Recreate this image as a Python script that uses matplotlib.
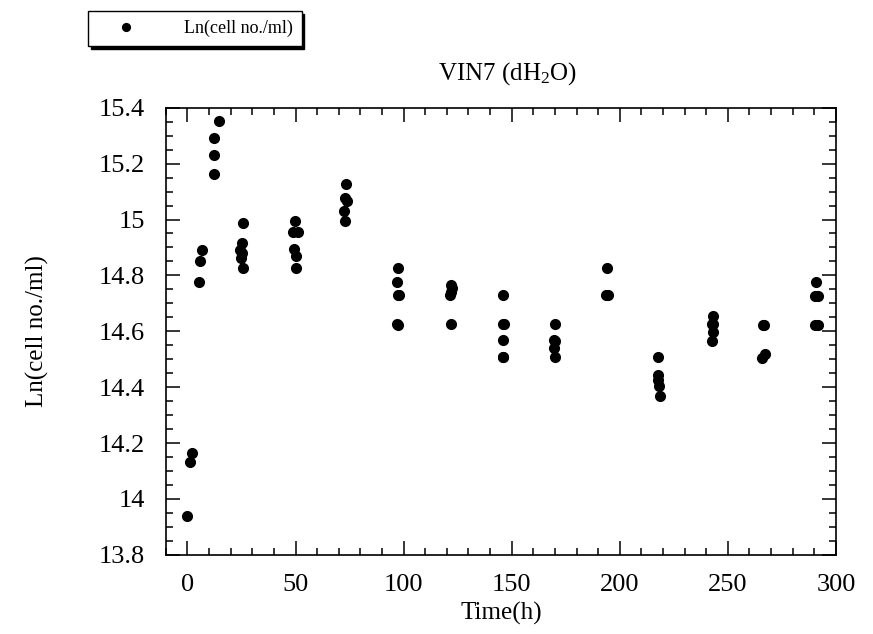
import matplotlib
matplotlib.use("Agg")
import matplotlib.pyplot as plt
from matplotlib.ticker import MultipleLocator, FuncFormatter

# Data (time in h, Ln of cell count)
t0 = [0.0, 1.1, 2.2]
y0 = [13.938, 14.133, 14.163]
t6 = [5.5, 5.8, 6.5]
y6 = [14.778, 14.850, 14.892]
t12 = [12.3, 12.3, 12.3, 14.5]
y12 = [15.162, 15.230, 15.291, 15.354]
t24 = [25.5, 24.8, 25.2, 24.5, 25.0, 25.5]
y24 = [14.826, 14.862, 14.880, 14.890, 14.916, 14.986]
t48 = [50.3, 50.0, 49.5, 49.0, 51.0, 49.8]
y48 = [14.827, 14.868, 14.894, 14.954, 14.954, 14.994]
t72 = [73.0, 72.5, 74.0, 73.0, 73.2]
y72 = [14.995, 15.032, 15.066, 15.078, 15.127]
t96 = [97.5, 97.0, 98.0, 97.3, 96.8, 97.5]
y96 = [14.622, 14.626, 14.731, 14.731, 14.777, 14.827]
t120 = [122.0, 121.5, 122.0, 122.5, 122.0]
y120 = [14.626, 14.730, 14.742, 14.754, 14.766]
t144 = [146.0, 146.2, 145.8, 146.0, 146.3, 145.8]
y144 = [14.508, 14.508, 14.568, 14.626, 14.626, 14.731]
t168 = [170.0, 169.8, 170.2, 169.8, 170.0]
y168 = [14.508, 14.540, 14.564, 14.569, 14.625]
t192 = [193.5, 194.5, 194.0]
y192 = [14.730, 14.730, 14.826]
t216 = [218.5, 218.0, 217.8, 217.6, 217.6]
y216 = [14.369, 14.405, 14.424, 14.444, 14.508]
t240 = [242.5, 243.0, 242.8, 243.0, 243.2]
y240 = [14.566, 14.597, 14.627, 14.627, 14.654]
t264 = [266.0, 267.0, 266.5, 266.8]
y264 = [14.504, 14.519, 14.624, 14.624]
t288 = [290.5, 291.5, 290.5, 291.5, 291.0]
y288 = [14.623, 14.623, 14.727, 14.727, 14.776]

times = t0 + t6 + t12 + t24 + t48 + t72 + t96 + t120 + t144 + t168 + t192 + t216 + t240 + t264 + t288
lncells = y0 + y6 + y12 + y24 + y48 + y72 + y96 + y120 + y144 + y168 + y192 + y216 + y240 + y264 + y288

plt.rcParams['font.family'] = ['Liberation Serif', 'DejaVu Serif']
plt.rcParams['mathtext.fontset'] = 'custom'
plt.rcParams['mathtext.rm'] = 'Liberation Serif'
plt.rcParams['mathtext.it'] = 'Liberation Serif:italic'

fig = plt.figure(figsize=(8.73, 6.34), dpi=100)
ax = fig.add_axes([0.190, 0.125, 0.7675, 0.705])

ax.plot(times, lncells, 'o', color='black', ms=7, label='Ln(cell no./ml)')

ax.set_xlim(-10, 300)
ax.set_ylim(13.8, 15.4)
ax.xaxis.set_major_locator(MultipleLocator(50))
ax.xaxis.set_minor_locator(MultipleLocator(10))
ax.yaxis.set_major_locator(MultipleLocator(0.2))
ax.yaxis.set_minor_locator(MultipleLocator(0.05))
ax.yaxis.set_major_formatter(FuncFormatter(lambda v, p: '%g' % round(v, 2)))

ax.tick_params(which='both', direction='in', top=True, right=True, width=1.1)
ax.tick_params(which='major', length=10, labelsize=19)
ax.tick_params(axis='x', which='major', pad=14)
ax.tick_params(axis='y', which='major', pad=15)
ax.tick_params(which='minor', length=5)
for s in ax.spines.values():
    s.set_linewidth(1.2)

ax.set_xlabel('Time(h)', fontsize=18, labelpad=4)
ax.set_ylabel('Ln(cell no./ml)', fontsize=18, labelpad=36)
ax.set_title('VIN7 (dH$_2$O)', fontsize=18, pad=20, x=0.51)

fig.legend(loc='upper left', bbox_to_anchor=(88 / 873, 1 - 11 / 634),
           borderaxespad=0, fancybox=False, framealpha=1, edgecolor='black',
           shadow={'color': 'black', 'alpha': 1}, fontsize=13,
           handlelength=3.2, handletextpad=1.6, borderpad=0.5, markerscale=0.8)

fig.savefig('out.png', dpi=100)
